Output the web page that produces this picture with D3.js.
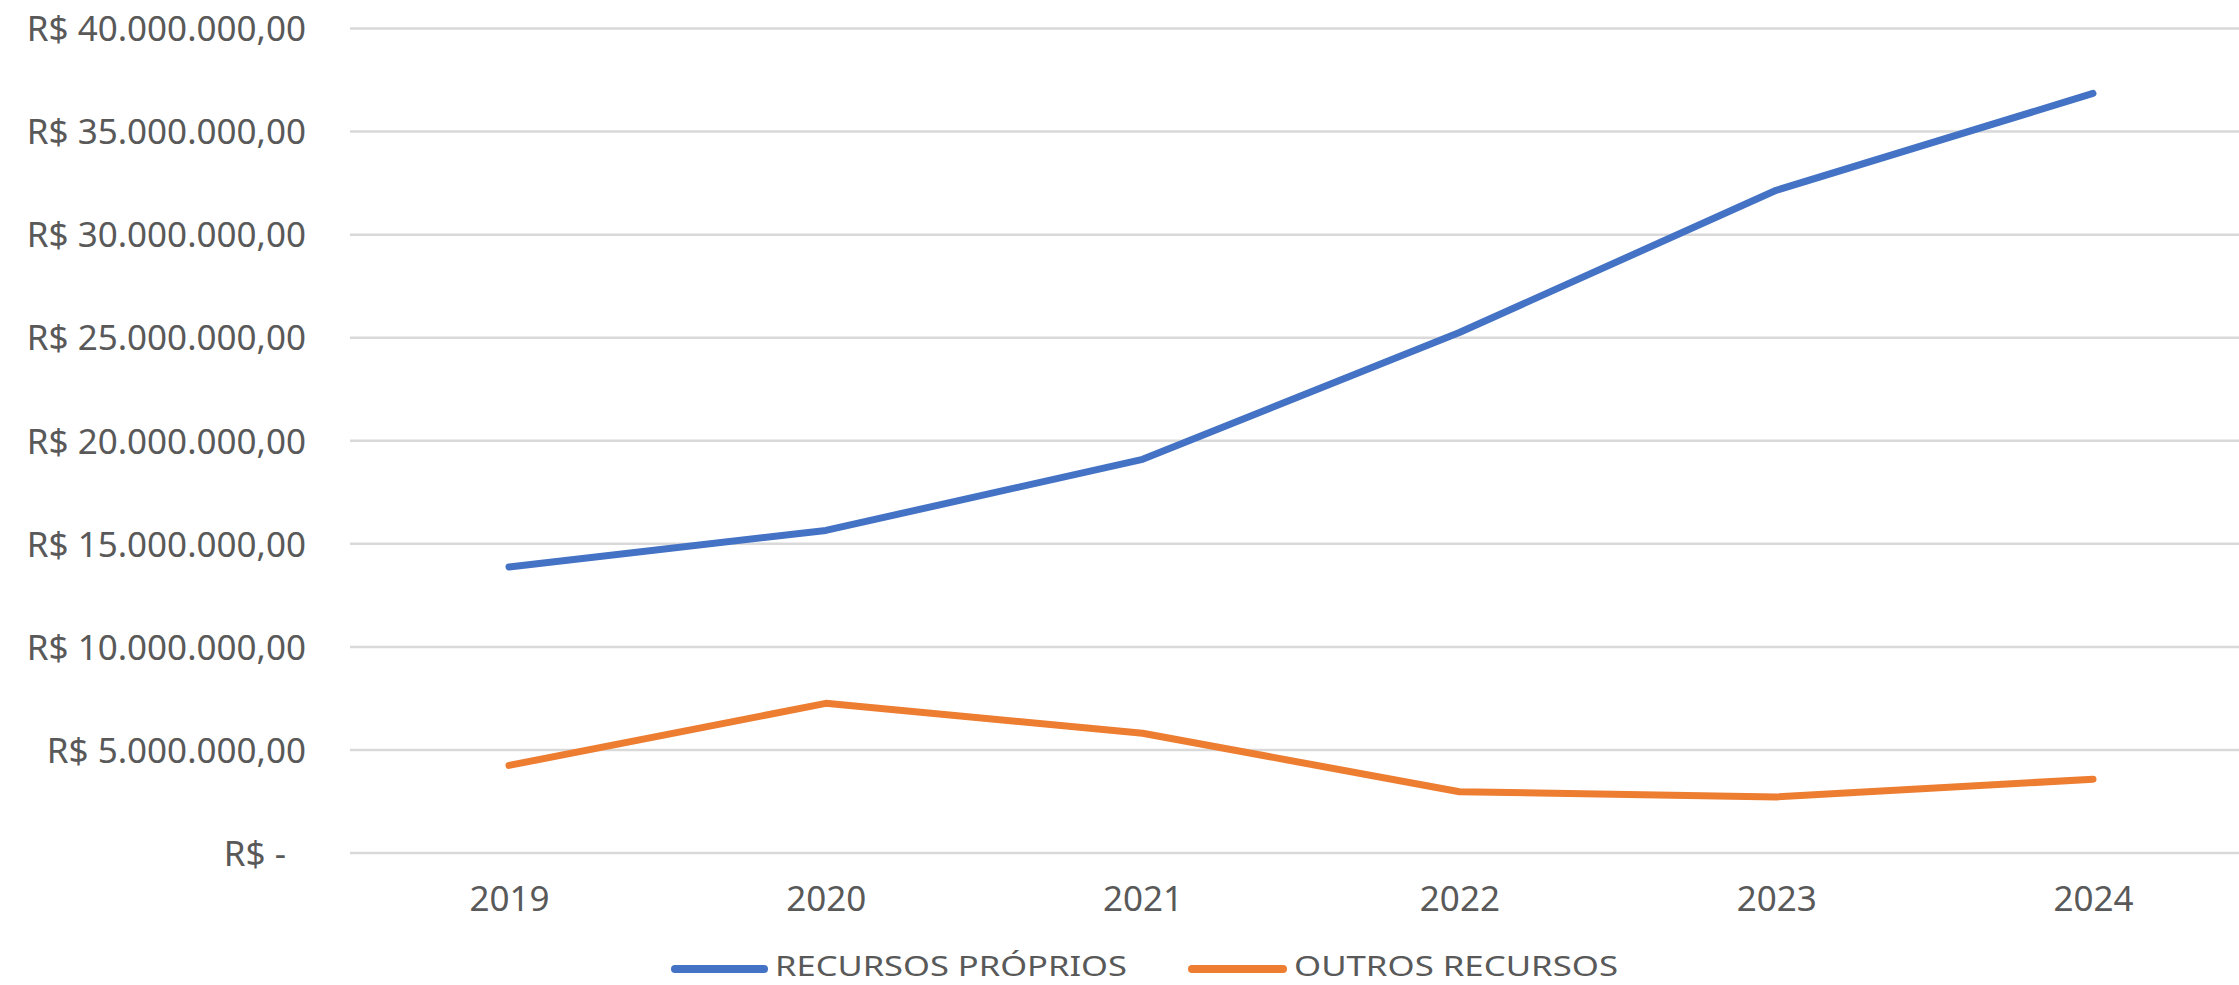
<!DOCTYPE html>
<html>
<head>
<meta charset="utf-8">
<script src="https://cdn.jsdelivr.net/npm/d3@7"></script>
<style>
  html, body { margin: 0; padding: 0; background: #ffffff; }
  svg { display: block; }
</style>
</head>
<body>
<div id="chart"></div>
<script>
const years = ["2019", "2020", "2021", "2022", "2023", "2024"];
const recursosProprios = [13880000, 15650000, 19100000, 25250000, 32150000, 36850000];
const outrosRecursos = [4250000, 7260000, 5810000, 2970000, 2720000, 3580000];
const yTicks = [0, 5000000, 10000000, 15000000, 20000000, 25000000, 30000000, 35000000, 40000000];
const seriesNames = ["RECURSOS PRÓPRIOS", "OUTROS RECURSOS"];
const seriesColors = ["#4472C4", "#ED7D31"];

const W = 2239, H = 985;
const svg = d3.select("#chart").append("svg").attr("width", W).attr("height", H);

const x = d3.scalePoint().domain(years).range([509, 2093]);
const y = d3.scaleLinear().domain([0, 40000000]).range([853, 28.5]);

const fmtNum = v => {
  const s = d3.format(",.2f")(v);
  return s.replace(/,/g, "#").replace(/\./g, ",").replace(/#/g, ".");
};
const fmt = v => v === 0 ? "R$ -" : "R$ " + fmtNum(v);

// gridlines
svg.append("g").selectAll("line").data(yTicks).join("line")
  .attr("x1", 350).attr("x2", W)
  .attr("y1", d => y(d)).attr("y2", d => y(d))
  .attr("stroke", "#d9d9d9").attr("stroke-width", 2.5);

// y axis labels
const yAxis = d3.axisLeft(y).tickValues(yTicks).tickFormat(fmt).tickSize(0).tickPadding(0);
const gy = svg.append("g").attr("transform", "translate(306,0)").call(yAxis);
gy.select(".domain").remove();
gy.selectAll("text")
  .attr("font-family", "'Noto Sans', 'Open Sans', sans-serif")
  .attr("font-size", 35).attr("fill", "#595959")
  .attr("dy", "0.35em")
  .attr("dx", d => d === 0 ? -20 : 0);

// x axis labels
const xAxis = d3.axisBottom(x).tickSize(0).tickPadding(0);
const gx = svg.append("g").attr("transform", "translate(0,899)").call(xAxis);
gx.select(".domain").remove();
gx.selectAll("text")
  .attr("font-family", "'Noto Sans', 'Open Sans', sans-serif")
  .attr("font-size", 35).attr("fill", "#595959")
  .attr("dy", "0.35em");

// lines
const line = d3.line().x((d, i) => x(years[i])).y(d => y(d));
[recursosProprios, outrosRecursos].forEach((data, k) => {
  svg.append("path").datum(data)
    .attr("d", line)
    .attr("fill", "none")
    .attr("stroke", seriesColors[k])
    .attr("stroke-width", 7)
    .attr("stroke-linejoin", "round")
    .attr("stroke-linecap", "round");
});

// legend
const legendItems = [
  { name: seriesNames[0], color: seriesColors[0], x1: 675, x2: 764, tx: 775, tw: 352 },
  { name: seriesNames[1], color: seriesColors[1], x1: 1192, x2: 1283, tx: 1294, tw: 324 }
];
const lg = svg.append("g");
legendItems.forEach(it => {
  lg.append("line").attr("x1", it.x1).attr("x2", it.x2).attr("y1", 969).attr("y2", 969)
    .attr("stroke", it.color).attr("stroke-width", 8).attr("stroke-linecap", "round");
  lg.append("text").attr("x", it.tx).attr("y", 966).attr("dy", "0.35em")
    .attr("font-family", "'Noto Sans', 'Open Sans', sans-serif")
    .attr("font-size", 28).attr("fill", "#595959")
    .attr("textLength", it.tw).attr("lengthAdjust", "spacingAndGlyphs")
    .text(it.name);
});
</script>
</body>
</html>
